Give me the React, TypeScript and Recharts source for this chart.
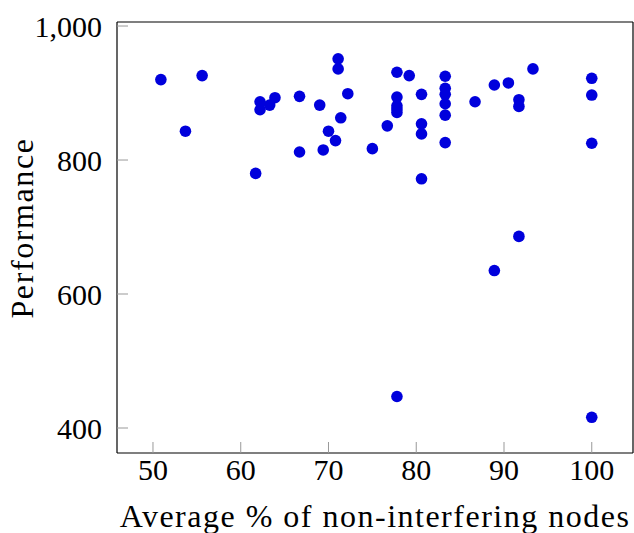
import React from 'react';
import { ScatterChart, Scatter, XAxis, YAxis, Label } from 'recharts';

// x: average % of non-interfering nodes, y: performance
const xValues = [
  50.9, 53.7, 55.6, 61.7, 62.2, 62.2, 63.3, 63.9, 66.7, 66.7,
  69.0, 69.4, 70.0, 70.8, 71.1, 71.1, 71.4, 72.2, 75.0, 76.7,
  77.8, 77.8, 77.8, 77.8, 77.8, 77.8, 79.2, 80.6, 80.6, 80.6,
  80.6, 83.3, 83.3, 83.3, 83.3, 83.3, 83.3, 86.7, 88.9, 88.9,
  90.5, 91.7, 91.7, 91.7, 93.3, 100, 100, 100, 100,
];
const yValues = [
  920, 843, 926, 780, 887, 875, 882, 893, 895, 812,
  882, 815, 843, 829, 951, 936, 863, 899, 817, 851,
  931, 894, 881, 876, 871, 447, 926, 898, 854, 839,
  772, 925, 907, 898, 884, 867, 826, 887, 912, 635,
  915, 890, 880, 686, 936, 922, 897, 825, 416,
];
const xTicks = [50, 60, 70, 80, 90, 100];
const yTicks = [400, 600, 800, 1000];

const points = xValues.map((x, i) => ({ x, y: yValues[i] }));

const FONT = '"Liberation Serif", "Times New Roman", serif';
const BLUE = '#0000dc';

const Dot = (props: any) => (
  <circle cx={props.cx} cy={props.cy} r={5.8} fill={BLUE} />
);

const YTitle = () => (
  <text
    transform="translate(33,228) rotate(-90)"
    textAnchor="middle"
    fontFamily={FONT}
    fontSize={32}
    letterSpacing={1.6}
    fill="#000"
  >
    Performance
  </text>
);

const App = () => {
  const tickStyle = { fontFamily: FONT, fontSize: 30, fill: '#000' };
  return (
    <div style={{ position: 'absolute', left: 0, top: 0 }}>
      <ScatterChart width={634} height={533} margin={{ top: 21, right: 0, bottom: 0, left: 0 }}>
        <XAxis
          type="number"
          dataKey="x"
          domain={[45.9, 104.7]}
          ticks={xTicks}
          height={80}
          tickSize={-11}
          tickMargin={17}
          tick={tickStyle}
          tickLine={{ stroke: '#999' }}
          axisLine={{ stroke: '#000', strokeWidth: 1.2 }}
        >
          <Label
            value="Average % of non-interfering nodes"
            position="insideBottom"
            offset={6}
            style={{ fontFamily: FONT, fontSize: 32, letterSpacing: 1.5, fill: '#000' }}
          />
        </XAxis>
        <XAxis
          xAxisId="top"
          orientation="top"
          type="number"
          dataKey="x"
          domain={[45.9, 104.7]}
          ticks={xTicks}
          height={1}
          tickSize={-11}
          tick={false}
          tickLine={{ stroke: '#999' }}
          axisLine={{ stroke: '#000', strokeWidth: 1.2 }}
        />
        <YAxis
          type="number"
          dataKey="y"
          domain={[362.7, 1006]}
          ticks={yTicks}
          width={117}
          tickSize={-11}
          tickMargin={26}
          tick={tickStyle}
          tickFormatter={(v: number) => v.toLocaleString('en-US')}
          tickLine={{ stroke: '#999' }}
          axisLine={{ stroke: '#000', strokeWidth: 1.2 }}
        >
          <Label content={<YTitle />} />
        </YAxis>
        <YAxis
          yAxisId="right"
          orientation="right"
          type="number"
          dataKey="y"
          domain={[362.7, 1006]}
          ticks={yTicks}
          width={1}
          tickSize={-11}
          tick={false}
          tickLine={{ stroke: '#999' }}
          axisLine={{ stroke: '#000', strokeWidth: 1.2 }}
        />
        <Scatter data={points} shape={<Dot />} isAnimationActive={false} />
      </ScatterChart>
    </div>
  );
};

export default App;
